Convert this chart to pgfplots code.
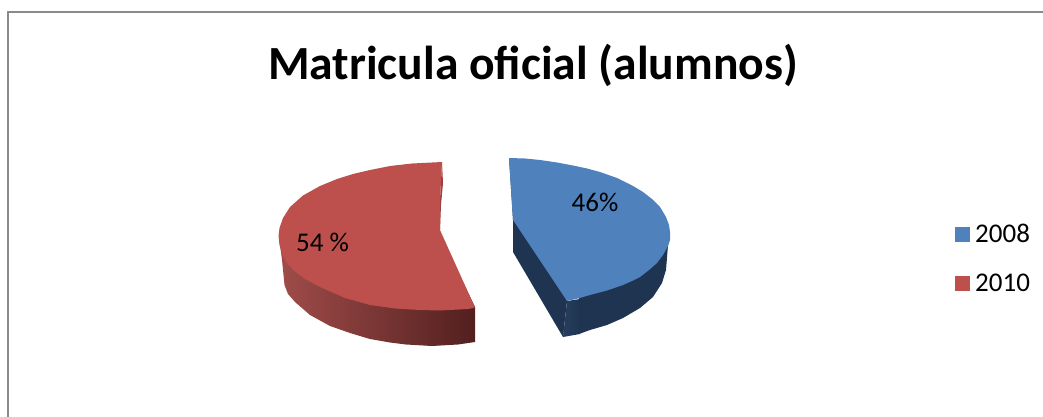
\documentclass[border=0pt]{standalone}
\usepackage{fontspec}
\setmainfont{Carlito}
\usepackage{pgfplots}
\pgfplotsset{compat=1.18}
\definecolor{redtop}{HTML}{BD4F4C}
\definecolor{redcut}{HTML}{9E403E}
\definecolor{redl}{HTML}{A04C4A}
\definecolor{redm}{HTML}{853A39}
\definecolor{redr}{HTML}{52201F}
\definecolor{bluetop}{HTML}{4F81BD}
\definecolor{blueside}{HTML}{1F3450}
\definecolor{bluel}{HTML}{263E5F}
\definecolor{framec}{HTML}{8A8A8A}
\begin{document}
\begin{tikzpicture}
\useasboundingbox (0,0) rectangle (1043pt,417pt);
\begin{axis}[
  scale only axis, width=1043pt, height=417pt,
  xmin=0, xmax=1043, ymin=0, ymax=417, y dir=reverse,
  hide axis, clip=false,
  legend style={at={(axis cs:955,259)},anchor=west,draw=none,fill=none,inner sep=0pt,
    font=\fontsize{27}{30}\selectfont,row sep=26pt,
    /tikz/every odd column/.append style={column sep=3pt}},
  legend cell align=left,
  legend image code/.code={\fill[#1] (0pt,-7.5pt) rectangle (15pt,7.5pt);},
]
% frame
\addplot[color=framec,line width=2pt,forget plot] coordinates {(8,417)(8,12)(1043,12)};
% red side
\addplot[draw=none,left color=redl,middle color=redm,right color=redr,forget plot] coordinates {
(475,342)(458,344.5)(432,346)(406,344.5)(390,342.5)(370,339)(350,333)(330,326)(310,315)(295,302)(288,294)(284.5,285)(282,260)(279,237)(440,235)(475,307)};
% red cut sliver
\addplot[fill=redcut,draw=none,forget plot] coordinates {(442,162)(443,183)(441,205)(440,230)(440,200)};
% blue sides
\addplot[fill=blueside,draw=none,forget plot] coordinates {(509,158)(513,220)(513,252)(563,337)(567,301)};
\addplot[draw=none,left color=bluel,right color=blueside,forget plot] coordinates {(563,337)(567,301)(580,299)(580,334)};
\addplot[fill=blueside,draw=none,forget plot] coordinates {(579,334)(590,330)(607,325)(623,318)(640,308)(653,297)(662,283)(666,270)(668,245)(670,232)(579,250)};
% blue top
\addplot[fill=bluetop,draw=none] coordinates {
(509,158)(525,158.5)(540,160)(557,162.5)(573,165.5)(587,168.5)(600,172)(617,178)(633,186)(643,192)(652,199)(660,207)(666,217)(669,225)(670,232)(670,240)(668,246)(663,255)(657,263)(649,270)(640,277)(632,281)(623,285)(607,290.5)(590,295)(578,298.5)(567,301)(513,220)};
\addlegendentry{2008}
% red top
\addplot[fill=redtop,draw=none] coordinates {
(442,162)(412,163.5)(390,166)(370,170)(353,174)(337,179)(320,186)(303,195.5)(290,207)(283,218)(279.5,228)(278.5,236)(279.5,245)(282,254)(286,262)(293,270)(305,279)(320,287)(345,298)(370,305)(395,308.5)(420,310)(440,310.5)(468,309)(475,307.5)(440,230)(440,200)};
\addlegendentry{2010}
\node[font=\fontsize{27}{30}\selectfont,inner sep=0pt] at (axis cs:595,202) {46\%};
\node[font=\fontsize{27}{30}\selectfont,inner sep=0pt] at (axis cs:322.5,242) {54 \%};
\node[font=\fontsize{47.6}{56}\bfseries\selectfont,inner sep=0pt] at (axis cs:533,65) {Matricula oficial (alumnos)};
\end{axis}
\end{tikzpicture}
\end{document}
